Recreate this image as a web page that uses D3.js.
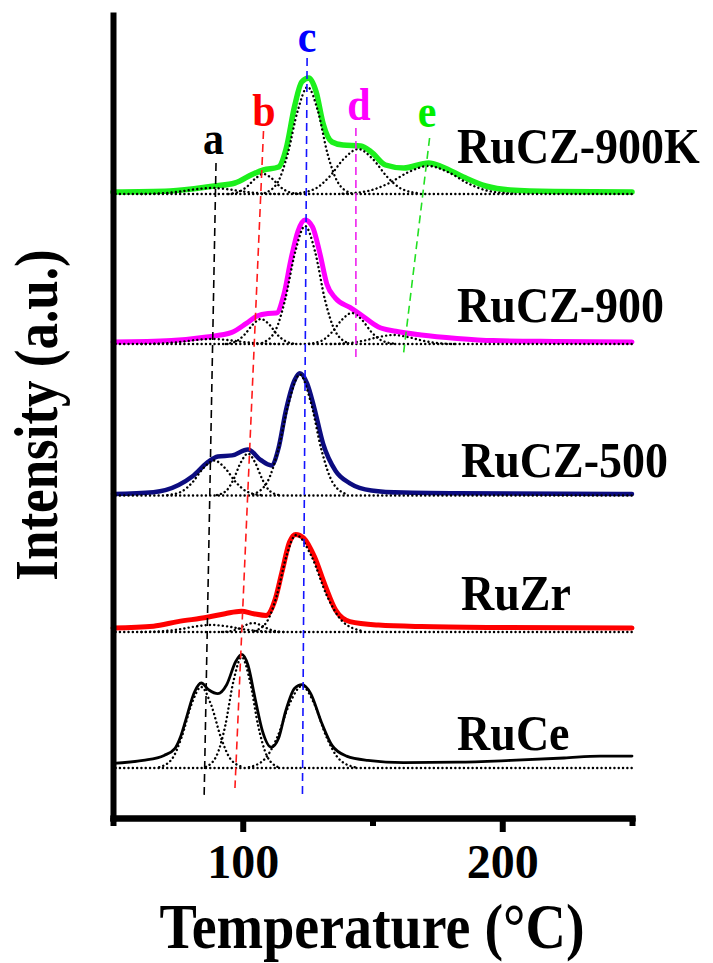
<html>
<head>
<meta charset="UTF-8">
<title>TPR profiles</title>
<script src="https://cdn.jsdelivr.net/npm/d3@7"></script>
<style>
  body { margin: 0; background: #fff; }
  text { font-family: "Liberation Serif", "Times New Roman", serif; font-weight: bold; }
  .total { fill: none; stroke-linejoin: round; stroke-linecap: round; }
  .comp { fill: none; stroke: #000; stroke-width: 2.4; stroke-dasharray: 0.1 4.2; stroke-linecap: round; }
  .guide { stroke-width: 1.6; stroke-dasharray: 8 5; }
  .axis .domain { stroke: #000; stroke-width: 6; stroke-linecap: square; }
  .axis .tick line { stroke: #000; stroke-width: 6; }
</style>
</head>
<body>
<script>
// samples, bottom to top
const samples = ["RuCe", "RuZr", "RuCZ-500", "RuCZ-900", "RuCZ-900K"];
// vertical offset of each trace (a.u.) and of its fitted baseline
const offsets = [54, 190, 324, 476, 626];
const fitBase = [50, 186, 322.5, 474, 624];

// measured profiles [T (°C), intensity]
const ruCe = [[50,0.7],[61.6,3.6],[69.7,8.6],[73.9,15.7],[76,27],[78,43.6],[81.4,72],[84,81],[87,74],[90.4,70.4],[93.8,79.3],[97.3,102.5],[99.6,109.6],[102,99],[104.8,65],[107.6,32.9],[111,16.8],[113.8,25.7],[116.5,52.5],[120,75.7],[122.8,79.3],[126.2,70.4],[130.3,41.8],[134.4,18.6],[140,7.9],[148.2,3.6],[162,1.4],[182.6,1.8],[203.3,3.6],[223.8,6],[237.7,7.9],[250,7.9]];
const ruZr = [[50,0],[65.6,1.8],[75,6.4],[86.3,10.7],[93.2,14.3],[99.4,16.8],[104.2,14.3],[109,12.5],[112.5,28.6],[115.2,57],[118,85.7],[120.4,93.6],[123.5,90],[127.6,71.4],[131.7,42.9],[135.8,17.9],[141.3,6.4],[152.3,2.9],[168.8,1.4],[200,0.5],[250,0]];
const ruCZ500 = [[50,0],[65.6,1.8],[75.3,9],[80.8,17.9],[86.3,31.4],[90.4,37.5],[95.9,38.6],[102,44.6],[106.9,34],[111,28.6],[113.8,46],[116.5,82],[120,114],[122,120.7],[124.8,110.7],[127.6,85.7],[131,50],[135.8,23],[141.3,10.7],[149.6,3.6],[162,1.4],[183,0.7],[250,0]];
const ruCZ900 = [[50,0],[72.5,1.5],[86,5],[95.8,9.6],[101.4,18.6],[105.5,26],[109.7,28.6],[113,29],[115.8,47],[118.6,83],[121.3,111],[124,122],[126.9,115],[129.6,90],[132.4,58],[135.8,43.6],[141.3,34.6],[145.4,27.5],[152.3,15],[159,10.7],[168.8,7],[182.6,3.6],[196.5,1.4],[220,0.5],[250,0]];
const ruCZ900K = [[50,0],[72,1],[89,6],[97,9],[104,18],[108,22],[113.8,25],[116.7,43],[120,86],[122.7,110],[125.5,114],[128.3,100],[131,68],[134.4,50],[138.6,47],[145.5,46],[149.5,40],[155,27],[162,24],[171.6,29],[177,25],[185,15],[193.6,6],[203,2],[220,0.5],[250,0]];

// fitted components (peaks a..e) [T, intensity]
const ruCeFit = [
  [[67.8,0.8],[72.7,8.9],[76.4,30.4],[80.2,63.2],[84,81],[87.8,63.2],[91.6,30.4],[95.3,8.9],[100.2,0.8]],
  [[85.8,1.1],[89.9,12.2],[93.2,41.6],[96.4,86.6],[99.6,111],[102.8,86.6],[106,41.6],[109.3,12.2],[113.4,1.1]],
  [[102.4,0.8],[108.5,9],[113.3,30.8],[118,64],[122.8,82],[127.6,64],[132.3,30.8],[137.1,9],[143.2,0.8]]
];
const ruZrFit = [
  [[61,0],[69.1,0.8],[75.4,2.6],[81.7,5.5],[88,7],[94.3,5.5],[100.6,2.6],[106.9,0.8],[115,0]],
  [[92,0],[95.6,1],[98.4,3.4],[101.2,7],[104,9],[106.8,7],[109.6,3.4],[112.4,1],[116,0]],
  [[104.6,1],[109.4,10.7],[113.1,36.4],[116.8,75.7],[120.5,97],[126.5,75.7],[132.4,36.4],[138.4,10.7],[146,1]]
];
const ruCZ500Fit = [
  [[71,0.4],[76.4,3.9],[80.6,13.1],[84.8,27.3],[89,35],[93.2,27.3],[97.4,13.1],[101.6,3.9],[107,0.4]],
  [[90,0.4],[93.6,4.6],[96.4,15.8],[99.2,32.8],[102,42],[104.8,32.8],[107.6,15.8],[110.4,4.6],[114,0.4]],
  [[104,1.2],[109.4,13.2],[113.6,45],[117.8,93.6],[122,121],[126.2,93.6],[130.4,45],[134.6,13.2],[140,1.2]]
];
const ruCZ900Fit = [
  [[61,0],[69.1,0.6],[75.4,1.9],[81.7,3.9],[88,5],[94.3,3.9],[100.6,1.9],[106.9,0.6],[115,0]],
  [[93.5,0],[97.6,2.8],[100.7,9.4],[103.9,19.5],[107,25],[110.2,19.5],[113.3,9.4],[116.5,2.8],[120.5,0]],
  [[107.5,1],[112.5,13],[116.3,44],[120.2,92],[124,118],[127.9,92],[131.7,44],[135.6,13],[140.5,1]],
  [[125.5,0.3],[130.5,3.4],[134.3,11.6],[138.2,24.2],[142,31],[145.9,24.2],[149.7,11.6],[153.6,3.4],[158.5,0.3]],
  [[134,0],[141.2,1],[146.8,3.4],[152.4,7],[158,9],[163.6,7],[169.2,3.4],[174.8,1],[182,0]]
];
const ruCZ900KFit = [
  [[61,0],[69.1,0.7],[75.4,2.3],[81.7,4.7],[88,6],[94.3,4.7],[100.6,2.3],[106.9,0.7],[115,0]],
  [[94.5,0],[98.5,2.2],[101.7,7.5],[104.9,15.6],[108,20],[111.2,15.6],[114.3,7.5],[117.5,2.2],[121.5,0]],
  [[108.5,1],[113.5,11.8],[117.3,40],[121.2,83.5],[125,107],[128.9,83.5],[132.7,40],[136.6,11.8],[141.5,1]],
  [[120.5,0.5],[127.7,5],[133.3,17],[138.9,35],[144.5,45],[150.1,35],[155.7,17],[161.3,5],[168.5,0.5]],
  [[138.5,0.3],[148.4,3.1],[156.1,10.5],[163.8,21.8],[171.5,28],[179.2,21.8],[186.9,10.5],[194.6,3.1],[204.5,0.3]]
];

const profiles = [ruCe, ruZr, ruCZ500, ruCZ900, ruCZ900K];
const fits = [ruCeFit, ruZrFit, ruCZ500Fit, ruCZ900Fit, ruCZ900KFit];
const fitRange = [51, 250];

// peak guide lines: label, top point, bottom point [T, a.u.]
const peakNames = ["a", "b", "c", "d", "e"];
const peakTop = [[89.7, 655], [108, 687], [124.8, 760], [143.6, 690], [172, 680]];
const peakBottom = [[85.1, 19], [97, 30], [123, 21], [143.6, 457], [161.8, 461]];
const peakLabel = [[88.7, 664], [108.2, 692], [124.8, 766], [144.8, 698], [171, 691]];

const majorTicks = [100, 200];
const minorTicks = [50, 150, 250];

// styling
const traceColors = ["#000000", "#ff0000", "#0c0c80", "#ff00ff", "#1cf01c"];
const traceWidths = [2.8, 5, 4.5, 5, 5.5];
const peakColors = ["#000000", "#ff1a1a", "#1414ff", "#ee22ee", "#22e022"];
const labelColors = ["#000000", "#ff0000", "#0000ff", "#ff00ff", "#00ee00"];
const sampleLabelX = [182.6, 184.1, 184.1, 182.6, 182.6];
const sampleLabelY = [68, 208, 341, 496, 655];

const W = 713, H = 963;
const x = d3.scaleLinear().domain([50, 250]).range([113, 632]);
const y = d3.scaleLinear().domain([0, 803]).range([818, 15]);

const svg = d3.select("body").append("svg")
  .attr("width", W).attr("height", H);

// traces
profiles.forEach(function (data, i) {
  const line = d3.line()
    .x(d => x(d[0]))
    .y(d => y(offsets[i] + d[1]))
    .curve(d3.curveMonotoneX);
  svg.append("path")
    .attr("class", "total")
    .attr("d", line(data))
    .attr("stroke", traceColors[i])
    .attr("stroke-width", traceWidths[i]);
});

// fitted components and their baselines
fits.forEach(function (comps, i) {
  const line = d3.line()
    .x(d => x(d[0]))
    .y(d => y(fitBase[i] + d[1]))
    .curve(d3.curveMonotoneX);
  svg.append("path")
    .attr("class", "comp")
    .attr("d", line(fitRange.map(t => [t, 0])));
  comps.forEach(function (c) {
    svg.append("path").attr("class", "comp").attr("d", line(c));
  });
});

// guide lines
peakNames.forEach(function (n, i) {
  svg.append("line")
    .attr("class", "guide")
    .attr("x1", x(peakTop[i][0])).attr("y1", y(peakTop[i][1]))
    .attr("x2", x(peakBottom[i][0])).attr("y2", y(peakBottom[i][1]))
    .attr("stroke", peakColors[i]);
  svg.append("text")
    .attr("transform", "translate(" + x(peakLabel[i][0]) + "," + y(peakLabel[i][1]) + ") scale(1,1.08)")
    .attr("text-anchor", "middle")
    .attr("font-size", 42)
    .attr("fill", labelColors[i])
    .text(n);
});

// sample labels
samples.forEach(function (s, i) {
  svg.append("text")
    .attr("transform", "translate(" + x(sampleLabelX[i]) + "," + y(sampleLabelY[i]) + ") scale(1,1.1)")
    .attr("font-size", 46)
    .attr("fill", "#000")
    .text(s);
});

// axes
const xAxis = svg.append("g")
  .attr("class", "axis")
  .attr("transform", "translate(0,818)")
  .call(d3.axisBottom(x).tickValues(majorTicks).tickSize(14).tickSizeOuter(0));
xAxis.selectAll(".tick text")
  .attr("y", 60).attr("dy", null)
  .attr("font-size", 48)
  .attr("font-family", "Liberation Serif")
  .attr("fill", "#000");

svg.append("g")
  .attr("class", "axis")
  .attr("transform", "translate(0,818)")
  .call(d3.axisBottom(x).tickValues(minorTicks).tickSize(8).tickSizeOuter(0).tickFormat(() => ""));

svg.append("g")
  .attr("class", "axis")
  .attr("transform", "translate(113,0)")
  .call(d3.axisLeft(y).tickValues([]).tickSizeOuter(0));

svg.append("text")
  .attr("transform", "translate(372,948) scale(1,1.12)")
  .attr("text-anchor", "middle")
  .attr("font-size", 56)
  .text("Temperature (°C)");

svg.append("text")
  .attr("transform", "translate(57,415) rotate(-90) scale(1,1.15)")
  .attr("text-anchor", "middle")
  .attr("font-size", 53)
  .text("Intensity (a.u.)");
</script>
</body>
</html>
